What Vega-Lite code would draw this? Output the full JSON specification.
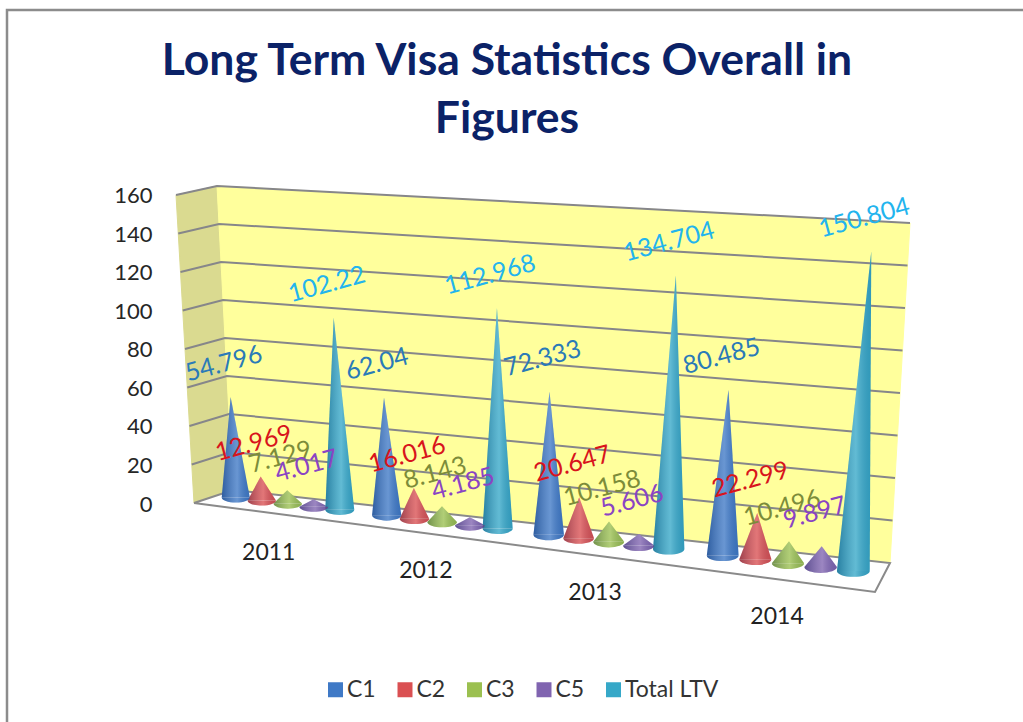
{
  "$schema": "https://vega.github.io/schema/vega-lite/v6.json",
  "autosize": "none",
  "width": 1020,
  "height": 720,
  "padding": {"left": 7, "top": 10, "right": 0, "bottom": 0},
  "background": "white",
  "view": {"stroke": "#8c8c8c", "strokeWidth": 2.5, "fill": "white"},
  "title": {
    "text": ["Long Term Visa Statistics Overall in", "Figures"],
    "font": "Lato", "fontWeight": "bold", "fontSize": 44.5, "color": "#0B2267",
    "anchor": "middle", "baseline": "top", "lineHeight": 58, "dx": -10, "dy": 132, "offset": 0
  },
  "data": {"values": [
    {"year": 2011, "series": "C1", "value": 54.796},
    {"year": 2011, "series": "C2", "value": 12.969},
    {"year": 2011, "series": "C3", "value": 7.129},
    {"year": 2011, "series": "C5", "value": 4.017},
    {"year": 2011, "series": "Total LTV", "value": 102.22},
    {"year": 2012, "series": "C1", "value": 62.04},
    {"year": 2012, "series": "C2", "value": 16.016},
    {"year": 2012, "series": "C3", "value": 8.143},
    {"year": 2012, "series": "C5", "value": 4.185},
    {"year": 2012, "series": "Total LTV", "value": 112.968},
    {"year": 2013, "series": "C1", "value": 72.333},
    {"year": 2013, "series": "C2", "value": 20.647},
    {"year": 2013, "series": "C3", "value": 10.158},
    {"year": 2013, "series": "C5", "value": 5.606},
    {"year": 2013, "series": "Total LTV", "value": 134.704},
    {"year": 2014, "series": "C1", "value": 80.485},
    {"year": 2014, "series": "C2", "value": 22.299},
    {"year": 2014, "series": "C3", "value": 10.496},
    {"year": 2014, "series": "C5", "value": 9.897},
    {"year": 2014, "series": "Total LTV", "value": 150.804},

    {"panel": "side", "pt": 0, "t": 0, "d": 0, "value": 0},
    {"panel": "side", "pt": 1, "t": 0, "d": 0, "value": 160},
    {"panel": "side", "pt": 2, "t": 0, "d": 1, "value": 160},
    {"panel": "side", "pt": 3, "t": 0, "d": 1, "value": 0},
    {"panel": "back", "pt": 0, "t": 0, "d": 1, "value": 0},
    {"panel": "back", "pt": 1, "t": 0, "d": 1, "value": 160},
    {"panel": "back", "pt": 2, "t": 1, "d": 1, "value": 160},
    {"panel": "back", "pt": 3, "t": 1, "d": 1, "value": 0},
    {"panel": "floor", "pt": 0, "t": 0, "d": 0, "value": 0},
    {"panel": "floor", "pt": 1, "t": 1, "d": 0, "value": 0},
    {"panel": "floor", "pt": 2, "t": 1, "d": 1, "value": 0},
    {"panel": "floor", "pt": 3, "t": 0, "d": 1, "value": 0},
    {"panel": "floor", "pt": 4, "t": 0, "d": 0, "value": 0},

    {"panel": "grid", "pt": 0, "t": 0, "d": 0, "value": 20},
    {"panel": "grid", "pt": 1, "t": 0, "d": 1, "value": 20},
    {"panel": "grid", "pt": 2, "t": 1, "d": 1, "value": 20},
    {"panel": "grid", "pt": 0, "t": 0, "d": 0, "value": 40},
    {"panel": "grid", "pt": 1, "t": 0, "d": 1, "value": 40},
    {"panel": "grid", "pt": 2, "t": 1, "d": 1, "value": 40},
    {"panel": "grid", "pt": 0, "t": 0, "d": 0, "value": 60},
    {"panel": "grid", "pt": 1, "t": 0, "d": 1, "value": 60},
    {"panel": "grid", "pt": 2, "t": 1, "d": 1, "value": 60},
    {"panel": "grid", "pt": 0, "t": 0, "d": 0, "value": 80},
    {"panel": "grid", "pt": 1, "t": 0, "d": 1, "value": 80},
    {"panel": "grid", "pt": 2, "t": 1, "d": 1, "value": 80},
    {"panel": "grid", "pt": 0, "t": 0, "d": 0, "value": 100},
    {"panel": "grid", "pt": 1, "t": 0, "d": 1, "value": 100},
    {"panel": "grid", "pt": 2, "t": 1, "d": 1, "value": 100},
    {"panel": "grid", "pt": 0, "t": 0, "d": 0, "value": 120},
    {"panel": "grid", "pt": 1, "t": 0, "d": 1, "value": 120},
    {"panel": "grid", "pt": 2, "t": 1, "d": 1, "value": 120},
    {"panel": "grid", "pt": 0, "t": 0, "d": 0, "value": 140},
    {"panel": "grid", "pt": 1, "t": 0, "d": 1, "value": 140},
    {"panel": "grid", "pt": 2, "t": 1, "d": 1, "value": 140},
    {"panel": "grid", "pt": 0, "t": 0, "d": 0, "value": 160},
    {"panel": "grid", "pt": 1, "t": 0, "d": 1, "value": 160},
    {"panel": "grid", "pt": 2, "t": 1, "d": 1, "value": 160}
  ]},
  "transform": [
    {"calculate": "datum.series ? indexof([2011,2012,2013,2014], datum.year) : 0", "as": "yi"},
    {"calculate": "datum.series ? indexof(['C1','C2','C3','C5','Total LTV'], datum.series) : 0", "as": "si"},
    {"calculate": "datum.series ? [0.0276,0.254,0.497,0.758][datum.yi] + datum.si * [0.039,0.0416,0.045,0.049][datum.yi] : datum.t", "as": "tt"},
    {"calculate": "datum.series ? 0.6 : datum.d", "as": "dd"},
    {"calculate": "datum.series ? 0.955 + 0.045*datum.tt : 1", "as": "depthScale"},
    {"calculate": "(187 + 681*datum.tt)*(1-datum.dd) + (226 + 657*datum.tt)*datum.dd", "as": "x0"},
    {"calculate": "(169 + 721*datum.tt)*(1-datum.dd) + (210 + 693*datum.tt)*datum.dd", "as": "x1"},
    {"calculate": "(0 - 46.23*datum.tt)*(1-datum.dd) + (6.75 - 37.92*datum.tt)*datum.dd", "as": "y0"},
    {"calculate": "(160 - 27.53*datum.tt)*(1-datum.dd) + (164.7 - 19.25*datum.tt)*datum.dd", "as": "y1"},
    {"calculate": "datum.x0 + (datum.x1 - datum.x0)*datum.value*datum.depthScale/160", "as": "px"},
    {"calculate": "datum.y0 + (datum.y1 - datum.y0)*datum.value*datum.depthScale/160", "as": "py"},
    {"calculate": "14 + 2.5*datum.tt", "as": "hw"},
    {"calculate": "4*datum.hw*datum.hw", "as": "baseSize"},
    {"calculate": "'' + datum.value", "as": "valueText"},
    {"calculate": "datum.x0 + (datum.yi - 1.5)*2.7 - 15", "as": "yearX"},
    {"calculate": "datum.y0 - [0, 0, 1, 2.5][datum.yi]", "as": "yearY"}
  ],
  "encoding": {
    "x": {"field": "px", "type": "quantitative", "axis": null,
      "scale": {"domain": [0, 1020], "nice": false, "zero": false}},
    "y": {"field": "py", "type": "quantitative", "stack": null,
      "scale": {"domain": [-117.92, 256.1], "nice": false, "zero": false},
      "axis": {"title": null, "values": [0, 20, 40, 60, 80, 100, 120, 140, 160], "domain": false, "ticks": false, "grid": false,
        "offset": -145, "labelPadding": 0, "labelOffset": 1, "labelFont": "Lato", "labelFontSize": 22, "labelColor": "#262626"}}
  },
  "layer": [
    {"transform": [{"filter": "datum.panel == 'side'"}],
     "mark": {"type": "line", "fill": "#DADA90", "stroke": "#DADA90", "strokeWidth": 1},
     "encoding": {"order": {"field": "pt", "type": "quantitative"}}},
    {"transform": [{"filter": "datum.panel == 'back'"}],
     "mark": {"type": "line", "fill": "#FFFF9C", "stroke": "#FFFF9C", "strokeWidth": 1},
     "encoding": {"order": {"field": "pt", "type": "quantitative"}}},
    {"transform": [{"filter": "datum.panel == 'floor'"}],
     "mark": {"type": "line", "fill": "white", "stroke": "#8a8a8a", "strokeWidth": 2},
     "encoding": {"order": {"field": "pt", "type": "quantitative"}}},
    {"transform": [{"filter": "datum.panel == 'grid'"}],
     "mark": {"type": "line", "stroke": "#86868A", "strokeWidth": 2},
     "encoding": {"order": {"field": "pt", "type": "quantitative"}, "detail": {"field": "value", "type": "quantitative"}}},

    {"transform": [
        {"filter": "datum.series"},
        {"calculate": "[-1, 0, 1]", "as": "vert"},
        {"flatten": ["vert"]},
        {"calculate": "datum.vert == 0 ? datum.px : datum.x0 + datum.vert*datum.hw", "as": "xv"},
        {"calculate": "datum.vert == 0 ? datum.py : datum.y0", "as": "yv"}
      ],
     "mark": {"type": "line", "strokeWidth": 0},
     "encoding": {
       "x": {"field": "xv", "type": "quantitative", "axis": null, "scale": {"domain": [0, 1020], "nice": false, "zero": false}},
       "y": {"field": "yv", "type": "quantitative", "stack": null, "scale": {"domain": [-117.92, 256.1], "nice": false, "zero": false}},
       "order": {"field": "vert", "type": "quantitative"},
       "detail": [{"field": "year", "type": "nominal"}, {"field": "series", "type": "nominal"}],
       "fill": {"field": "series", "type": "nominal",
         "scale": {"domain": ["C1", "C2", "C3", "C5", "Total LTV"], "range": ["#3F79C6", "#DA5052", "#9BC050", "#8064B0", "#36A8C8"]},
         "legend": {"title": null, "orient": "none", "legendX": 317, "legendY": 668, "direction": "horizontal", "columns": 5,
           "symbolType": "square", "symbolSize": 225, "symbolStrokeWidth": 0, "labelFont": "Lato", "labelFontSize": 23, "labelColor": "#333333", "columnPadding": 17.5, "labelOffset": 0}}
     }},
    {"transform": [{"filter": "datum.series"}],
     "mark": {"type": "point", "filled": true, "opacity": 1, "shape": "M-1,0A1,0.36,0,0,0,1,0Z"},
     "encoding": {
       "x": {"field": "x0", "type": "quantitative", "axis": null, "scale": {"domain": [0, 1020], "nice": false, "zero": false}},
       "y": {"field": "y0", "type": "quantitative", "stack": null, "scale": {"domain": [-117.92, 256.1], "nice": false, "zero": false}},
       "size": {"field": "baseSize", "type": "quantitative", "scale": null},
       "fill": {"field": "series", "type": "nominal"}
     }},
    {"transform": [
        {"filter": "datum.series"},
        {"calculate": "[-1, 0, 1]", "as": "vert"},
        {"flatten": ["vert"]},
        {"calculate": "datum.vert == 0 ? datum.px : datum.x0 + datum.vert*datum.hw", "as": "xv"},
        {"calculate": "datum.vert == 0 ? datum.py : datum.y0", "as": "yv"}
      ],
     "mark": {"type": "line", "strokeWidth": 0, "fill": {"gradient": "linear", "x1": 0, "y1": 0, "x2": 1, "y2": 0,
        "stops": [{"offset": 0, "color": "rgba(0,20,60,0.28)"}, {"offset": 0.55, "color": "rgba(255,255,255,0.22)"}, {"offset": 1, "color": "rgba(0,20,60,0.10)"}]}},
     "encoding": {
       "x": {"field": "xv", "type": "quantitative", "axis": null, "scale": {"domain": [0, 1020], "nice": false, "zero": false}},
       "y": {"field": "yv", "type": "quantitative", "stack": null, "scale": {"domain": [-117.92, 256.1], "nice": false, "zero": false}},
       "order": {"field": "vert", "type": "quantitative"},
       "detail": [{"field": "year", "type": "nominal"}, {"field": "series", "type": "nominal"}]
     }},
    {"transform": [{"filter": "datum.series"}],
     "mark": {"type": "point", "filled": true, "opacity": 1, "shape": "M-1,0A1,0.36,0,0,0,1,0Z",
       "color": {"gradient": "linear", "x1": 0, "y1": 0, "x2": 1, "y2": 0,
        "stops": [{"offset": 0, "color": "rgba(0,20,60,0.28)"}, {"offset": 0.55, "color": "rgba(255,255,255,0.22)"}, {"offset": 1, "color": "rgba(0,20,60,0.10)"}]}},
     "encoding": {
       "x": {"field": "x0", "type": "quantitative", "axis": null, "scale": {"domain": [0, 1020], "nice": false, "zero": false}},
       "y": {"field": "y0", "type": "quantitative", "stack": null, "scale": {"domain": [-117.92, 256.1], "nice": false, "zero": false}},
       "size": {"field": "baseSize", "type": "quantitative", "scale": null}
     }},

    {"transform": [{"filter": "datum.series == 'C3'"}],
     "mark": {"type": "text", "font": "Lato", "fontSize": 23, "color": "#222222", "dy": 49},
     "encoding": {
       "x": {"field": "yearX", "type": "quantitative", "axis": null, "scale": {"domain": [0, 1020], "nice": false, "zero": false}},
       "y": {"field": "yearY", "type": "quantitative", "stack": null, "scale": {"domain": [-117.92, 256.1], "nice": false, "zero": false}},
       "text": {"field": "year", "type": "nominal"}
     }},
    {"transform": [{"filter": "datum.series"}],
     "mark": {"type": "text", "font": "Lato", "fontSize": 25, "angle": 345, "dx": 2, "dy": -34},
     "encoding": {
       "text": {"field": "valueText", "type": "nominal"},
       "color": {"field": "series", "type": "nominal", "legend": null,
         "scale": {"domain": ["C1", "C2", "C3", "C5", "Total LTV"], "range": ["#2A7AB8", "#D8141C", "#7C8C3A", "#8A44C4", "#22B4EE"]}}
     }}
  ]
}
